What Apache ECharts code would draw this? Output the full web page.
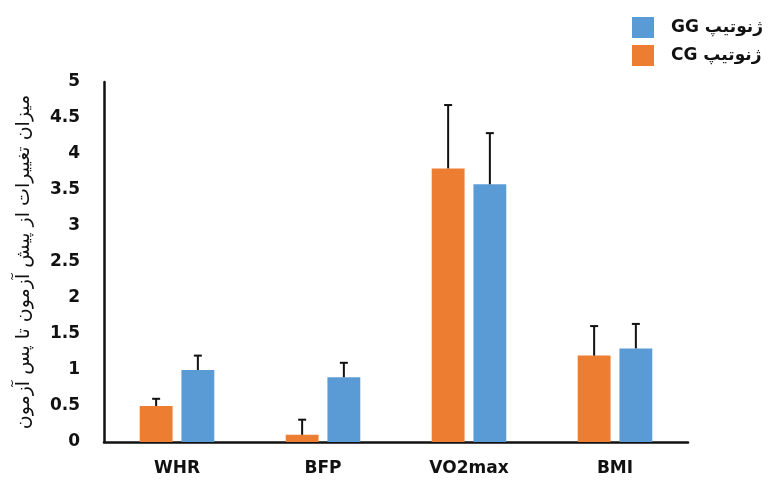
<head>
<meta charset="utf-8">
<script src="https://cdn.jsdelivr.net/npm/echarts@6/dist/echarts.min.js"></script>
<style>
  body { margin: 0; background: #fff; }
</style>
</head>
<body>
<div id="main" style="width:772px;height:481px"></div>
<script>
var categories = ['WHR', 'BFP', 'VO2max', 'BMI'];
var cgValues = [0.5, 0.1, 3.8, 1.2];
var cgErrTop = [0.6, 0.31, 4.68, 1.61];
var ggValues = [1.0, 0.9, 3.58, 1.3];
var ggErrTop = [1.2, 1.1, 4.29, 1.64];
var yTicks = [0, 0.5, 1, 1.5, 2, 2.5, 3, 3.5, 4, 4.5, 5];

var cgName = 'CG ژنوتیپ';
var ggName = 'GG ژنوتیپ';
var barW = 0.225, gapR = 0.27;

function errBars(vals, tops, side) {
    var d = [];
    for (var i = 0; i < vals.length; i++) d.push([i, vals[i], tops[i]]);
    return {
        type: 'custom',
        data: d,
        z: 5,
        silent: true,
        renderItem: function (params, api) {
            var band = api.size([1, 0])[0];
            var off = side * band * barW * (1 + gapR) / 2;
            var p0 = api.coord([api.value(0), api.value(1)]);
            var p1 = api.coord([api.value(0), api.value(2)]);
            var x = p0[0] + off;
            var st = { stroke: '#111', lineWidth: 2 };
            return {
                type: 'group',
                children: [
                    { type: 'line', shape: { x1: x, y1: p0[1], x2: x, y2: p1[1] }, style: st },
                    { type: 'line', shape: { x1: x - 4, y1: p1[1], x2: x + 4, y2: p1[1] }, style: st }
                ]
            };
        }
    };
}

var myChart = echarts.init(document.getElementById('main'));
var option = {
    animation: false,
    textStyle: { fontFamily: 'DejaVu Sans' },
    grid: { left: 104, right: 84, top: 82, bottom: 39 },
    legend: {
        data: [ggName, cgName],
        orient: 'vertical',
        left: 627,
        top: 12,
        itemWidth: 22,
        itemHeight: 21,
        itemGap: 7,
        icon: 'rect',
        textStyle: { fontSize: 17, fontWeight: 'bold', color: '#111', padding: [0, 0, 0, 12] }
    },
    xAxis: {
        type: 'category',
        data: categories,
        axisLine: { lineStyle: { color: '#111', width: 2.5 } },
        axisTick: { show: false },
        axisLabel: { fontSize: 17, fontWeight: 'bold', color: '#111', margin: 18 }
    },
    yAxis: [{
        type: 'value',
        min: 0,
        max: 5,
        interval: 0.5,
        name: 'میزان تغییرات از پیش آزمون تا پس آزمون',
        nameLocation: 'middle',
        nameRotate: 90,
        nameGap: 70,
        nameTextStyle: { fontSize: 19, color: '#111' },
        axisLine: { show: false },
        axisTick: { show: false },
        splitLine: { show: false },
        axisLabel: {
            fontSize: 17, fontWeight: 'bold', color: '#111', margin: 24,
            formatter: function (v) { return yTicks.indexOf(v) >= 0 ? String(v) : ''; }
        }
    }, {
        type: 'value',
        position: 'left',
        min: 0,
        max: 4.76,
        axisLine: { show: true, lineStyle: { color: '#111', width: 2.5 } },
        axisTick: { show: false },
        axisLabel: { show: false },
        splitLine: { show: false }
    }],
    series: [
        { name: cgName, type: 'bar', data: cgValues, barWidth: '22.5%', barGap: '27%', itemStyle: { color: '#ED7D31' } },
        { name: ggName, type: 'bar', data: ggValues, barWidth: '22.5%', barGap: '27%', itemStyle: { color: '#5B9BD5' } },
        errBars(cgValues, cgErrTop, -1),
        errBars(ggValues, ggErrTop, 1)
    ]
};
myChart.setOption(option);
</script>
</body>
